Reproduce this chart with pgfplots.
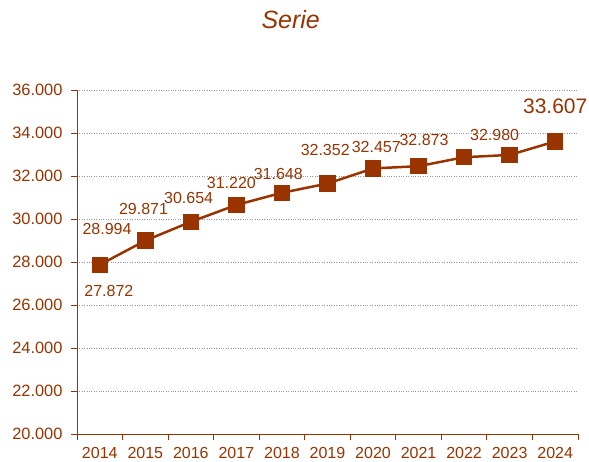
\documentclass[border=0pt]{standalone}
\usepackage{fontspec}
\setmainfont{Liberation Sans}
\usepackage{pgfplots}
\pgfplotsset{compat=1.18}
\definecolor{brn}{HTML}{993300}
\begin{document}
\begin{tikzpicture}
\useasboundingbox (-77pt,-27pt) rectangle (512pt,434pt);
\begin{axis}[
  at={(0pt,0pt)}, anchor=south west,
  scale only axis, width=501pt, height=344pt,
  xmin=2013.5, xmax=2024.5, ymin=20, ymax=36,
  axis x line*=bottom, axis y line*=left,
  axis line style={brn, line width=0.8pt, -},
  xtick={2014,...,2024},
  major x tick style={draw=none},
  minor xtick={2013.5,2014.5,...,2024.5},
  ytick={20,22,...,36},
  tick align=outside, major tick length=6pt, minor tick length=6pt,
  tick style={brn, line width=0.8pt},
  ymajorgrids, grid style={gray!80, dotted, line width=0.8pt},
  /pgf/number format/assume math mode=true,
  xticklabel style={font=\fontsize{16}{19}\selectfont, text=brn, yshift=-4pt, /pgf/number format/1000 sep={}},
  yticklabel style={font=\fontsize{16.4}{19}\selectfont, text=brn, xshift=-5pt, /pgf/number format/.cd, fixed, fixed zerofill, precision=3},
  clip=false,
]
\addplot[brn, line width=2.5pt, mark=square*, mark size=7pt, mark options={solid}] coordinates {
  (2014,27.872) (2015,28.994) (2016,29.871) (2017,30.654) (2018,31.220)
  (2019,31.648) (2020,32.352) (2021,32.457) (2022,32.873) (2023,32.980) (2024,33.607)
};
\begin{scope}[every node/.style={font=\fontsize{16}{19}\selectfont, text=brn}]
\node at (axis cs:2014.20,26.65) {27.872};
\node at (axis cs:2014.16,29.53) {28.994};
\node at (axis cs:2014.96,30.48) {29.871};
\node at (axis cs:2015.95,30.98) {30.654};
\node at (axis cs:2016.89,31.67) {31.220};
\node at (axis cs:2017.92,32.08) {31.648};
\node at (axis cs:2018.95,33.19) {32.352};
\node at (axis cs:2020.07,33.33) {32.457};
\node at (axis cs:2021.12,33.67) {32.873};
\node at (axis cs:2022.67,33.92) {32.980};
\node[font=\fontsize{21}{25}\selectfont] at (axis cs:2024.0,35.22) {33.607};
\end{scope}
\end{axis}
\node[anchor=base, text=brn, font=\fontsize{25}{30}\selectfont\itshape] at (213.7pt,405pt) {Serie};
\end{tikzpicture}
\end{document}
